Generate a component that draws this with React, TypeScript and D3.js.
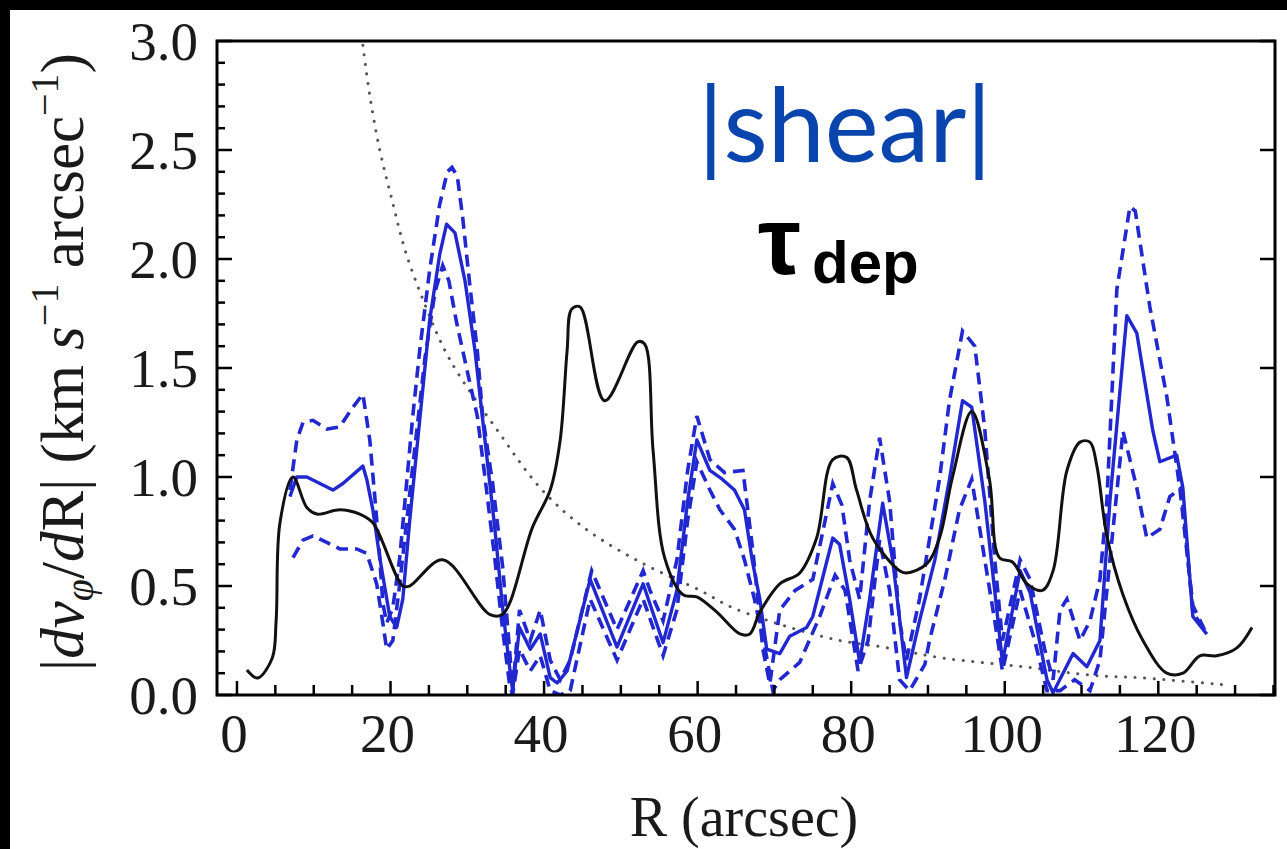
import React from "react";
import * as d3 from "d3";

// ---------- data ----------
const tauR = [1.3, 2.7, 4.6, 5.1, 5.6, 7.3, 9.1, 10.4, 13.4, 16.0, 17.7, 21.6, 22.5, 26.8, 32.9, 34.6, 38.5, 40.8, 42.1, 43.0, 43.6, 44.7, 47.9, 52.2, 53.1, 54.2, 55.7, 58.1, 59.9, 62.5, 65.5, 66.8, 68.1, 70.7, 73.3, 75.5, 77.6, 79.4, 80.7, 82.8, 86.3, 87.2, 89.8, 91.5, 93.2, 95.7, 98.0, 99.3, 101.0, 102.9, 104.9, 106.3, 108.1, 109.8, 111.1, 112.0, 113.3, 115.4, 118.0, 121.1, 123.2, 125.4, 127.6, 130.2, 132.2];
const tauV = [0.115, 0.078, 0.17, 0.34, 0.79, 1.0, 0.86, 0.83, 0.85, 0.83, 0.79, 0.5, 0.5, 0.62, 0.37, 0.37, 0.77, 0.94, 1.17, 1.58, 1.77, 1.78, 1.35, 1.62, 1.61, 1.12, 0.63, 0.46, 0.45, 0.38, 0.28, 0.28, 0.38, 0.51, 0.56, 0.72, 1.08, 1.09, 0.94, 0.72, 0.57, 0.56, 0.6, 0.72, 1.0, 1.3, 0.99, 0.63, 0.61, 0.51, 0.48, 0.57, 1.03, 1.16, 1.16, 1.05, 0.73, 0.46, 0.25, 0.1, 0.1, 0.18, 0.18, 0.215, 0.31];

const shearR = [6.9, 7.8, 9.1, 10.8, 12.5, 13.8, 16.4, 16.9, 17.7, 18.6, 19.9, 20.8, 21.6, 22.5, 23.8, 25.1, 26.4, 27.3, 28.4, 29.7, 31.0, 32.3, 33.6, 34.6, 35.5, 35.9, 36.8, 38.2, 39.5, 40.8, 41.7, 43.0, 46.0, 49.5, 52.9, 55.5, 57.3, 58.7, 59.9, 61.6, 63.2, 64.8, 66.1, 67.1, 68.1, 69.0, 70.7, 72.0, 74.2, 75.0, 77.6, 78.5, 79.8, 81.1, 82.4, 84.1, 85.4, 87.2, 88.9, 90.9, 92.8, 94.5, 95.7, 97.4, 99.0, 99.7, 102.0, 103.3, 105.5, 106.3, 108.9, 110.7, 112.4, 113.7, 115.9, 117.2, 119.3, 120.2, 122.4, 123.2, 124.5, 126.3];
const shearV = [0.91, 1.0, 1.0, 0.97, 0.94, 0.97, 1.05, 0.99, 0.85, 0.63, 0.36, 0.31, 0.44, 0.8, 1.26, 1.72, 2.02, 2.16, 2.12, 1.9, 1.58, 1.17, 0.76, 0.4, 0.13, 0.02, 0.31, 0.21, 0.28, 0.08, 0.055, 0.11, 0.53, 0.22, 0.51, 0.24, 0.48, 0.89, 1.17, 1.03, 0.99, 0.94, 0.85, 0.62, 0.44, 0.21, 0.19, 0.27, 0.31, 0.36, 0.72, 0.69, 0.44, 0.15, 0.44, 0.88, 0.62, 0.08, 0.34, 0.62, 0.99, 1.35, 1.32, 0.89, 0.38, 0.15, 0.57, 0.47, 0.07, 0.01, 0.19, 0.13, 0.25, 0.89, 1.74, 1.66, 1.21, 1.07, 1.1, 0.95, 0.36, 0.28];

const upperR = [6.9, 7.8, 8.6, 9.9, 11.7, 13.4, 15.1, 16.4, 17.3, 18.0, 18.6, 19.0, 19.5, 20.3, 21.2, 22.9, 23.8, 25.1, 26.4, 27.4, 28.0, 28.7, 29.4, 30.3, 31.3, 32.0, 33.3, 34.6, 35.5, 35.9, 36.8, 38.2, 39.5, 40.8, 42.1, 43.4, 46.2, 49.5, 52.9, 53.8, 55.5, 57.3, 58.7, 59.9, 61.6, 63.5, 65.9, 67.2, 68.5, 69.4, 70.7, 72.7, 75.0, 76.6, 77.6, 78.8, 79.8, 81.1, 82.4, 83.7, 85.0, 86.3, 87.2, 88.9, 91.5, 92.8, 94.5, 96.1, 97.4, 98.7, 99.7, 102.0, 103.3, 105.2, 106.3, 107.2, 108.1, 109.8, 111.1, 112.4, 113.3, 114.6, 116.3, 117.0, 118.9, 121.1, 122.8, 124.5, 126.3];
const upperV = [0.94, 1.17, 1.25, 1.26, 1.22, 1.23, 1.32, 1.38, 1.17, 0.89, 0.63, 0.42, 0.33, 0.4, 0.63, 1.28, 1.58, 1.95, 2.25, 2.4, 2.42, 2.38, 2.19, 1.89, 1.58, 1.28, 0.97, 0.59, 0.21, 0.02, 0.39, 0.25, 0.39, 0.16, 0.07, 0.16, 0.57, 0.3, 0.57, 0.48, 0.34, 0.62, 1.03, 1.28, 1.08, 1.02, 1.03, 0.66, 0.21, 0.05, 0.39, 0.48, 0.53, 0.8, 0.97, 0.87, 0.62, 0.44, 0.89, 1.18, 0.89, 0.34, 0.16, 0.44, 0.99, 1.35, 1.67, 1.6, 1.22, 0.62, 0.25, 0.62, 0.53, 0.21, 0.07, 0.39, 0.44, 0.25, 0.34, 0.53, 0.89, 1.86, 2.24, 2.22, 1.78, 1.37, 0.95, 0.41, 0.28];

const lowerR = [7.3, 8.6, 9.9, 11.7, 13.4, 15.6, 16.9, 18.2, 19.0, 19.5, 20.3, 21.2, 22.9, 24.5, 25.8, 26.8, 27.6, 28.6, 29.9, 31.3, 32.3, 33.6, 34.6, 35.5, 35.9, 36.8, 38.2, 39.5, 40.8, 42.1, 43.4, 46.0, 49.5, 52.9, 55.5, 57.3, 58.7, 59.9, 61.6, 62.9, 64.8, 66.1, 67.4, 68.8, 69.8, 70.7, 73.3, 75.9, 77.9, 79.2, 80.9, 82.2, 83.7, 85.0, 86.3, 87.6, 89.6, 90.2, 92.2, 94.1, 95.7, 97.4, 98.7, 99.7, 102.0, 103.9, 105.5, 107.2, 109.1, 111.1, 112.4, 113.7, 115.4, 117.2, 118.5, 120.2, 121.5, 123.0, 124.5, 126.3];
const lowerV = [0.63, 0.71, 0.73, 0.7, 0.67, 0.67, 0.65, 0.51, 0.33, 0.21, 0.25, 0.51, 1.05, 1.55, 1.85, 1.97, 1.9, 1.71, 1.5, 1.28, 1.0, 0.62, 0.3, 0.05, 0.0, 0.21, 0.11, 0.18, 0.02, 0.0, 0.02, 0.44, 0.16, 0.44, 0.18, 0.39, 0.8, 1.07, 0.94, 0.85, 0.76, 0.62, 0.44, 0.21, 0.02, 0.07, 0.15, 0.36, 0.55, 0.48, 0.11, 0.25, 0.71, 0.48, 0.07, 0.02, 0.14, 0.25, 0.53, 0.85, 0.99, 0.62, 0.34, 0.11, 0.48, 0.25, 0.02, 0.02, 0.07, 0.02, 0.16, 0.62, 1.21, 0.95, 0.72, 0.76, 0.91, 0.95, 0.38, 0.28];

const dotR = [16.4, 17.3, 18.6, 20.2, 21.9, 24.5, 27.7, 34.2, 39.5, 45.1, 52.5, 60.3, 64.6, 72.0, 78.5, 84.1, 91.9, 102.3, 111.5, 118.0, 128.9];
const dotV = [2.98, 2.75, 2.5, 2.27, 2.04, 1.79, 1.54, 1.2, 0.95, 0.77, 0.61, 0.48, 0.4, 0.31, 0.25, 0.22, 0.17, 0.13, 0.09, 0.078, 0.046];

const xTicks = [0, 20, 40, 60, 80, 100, 120];
const yTicks = [0, 0.5, 1.0, 1.5, 2.0, 2.5, 3.0];

// ---------- layout ----------
const W = 1287, H = 849;
const L = 217, R = 1275, T = 41, B = 695;
const BLUE = "#2228cf";

const x = d3.scaleLinear().domain([-2.6, 135.2]).range([L, R]);
const y = d3.scaleLinear().domain([0, 3]).range([B, T]);

const zip = (a: number[], b: number[]) => a.map((v, i) => [v, b[i]] as [number, number]);
const line = d3.line<[number, number]>().x(d => x(d[0])).y(d => y(d[1]));
const smooth = d3.line<[number, number]>().x(d => x(d[0])).y(d => y(d[1])).curve(d3.curveCatmullRom.alpha(0.5));

export default function App() {
  const xMinor = d3.range(0, 135.01, 5);
  const yMinor = d3.range(0, 3.001, 0.1);
  const serif = "'Liberation Serif', 'Times New Roman', serif";
  return (
    <svg width={W} height={H} style={{ position: "absolute", left: 0, top: 0, background: "#000" }}>
      <rect x={0} y={0} width={W} height={H} fill="#000" />
      <rect x={10} y={10} width={W - 10} height={H - 10} fill="#fff" />
      <defs>
        <clipPath id="plot">
          <rect x={L} y={T} width={R - L} height={B - T} />
        </clipPath>
      </defs>
      <g clipPath="url(#plot)" fill="none">
        <path d={smooth(zip(dotR, dotV)) || ""} stroke="#555" strokeWidth={3} strokeDasharray="0.1 9.5" strokeLinecap="round" />
        <path d={line(zip(upperR, upperV)) || ""} stroke={BLUE} strokeWidth={3.6} strokeDasharray="12 7" />
        <path d={line(zip(lowerR, lowerV)) || ""} stroke={BLUE} strokeWidth={3.6} strokeDasharray="12 7" />
        <path d={line(zip(shearR, shearV)) || ""} stroke={BLUE} strokeWidth={3.4} strokeLinejoin="round" />
        <path d={smooth(zip(tauR, tauV)) || ""} stroke="#111" strokeWidth={3} strokeLinejoin="round" />
      </g>
      {/* frame */}
      <rect x={L} y={T} width={R - L} height={B - T} fill="none" stroke="#000" strokeWidth={3} />
      {/* x ticks */}
      {xMinor.map(v => (
        <line key={"xm" + v} x1={x(v)} x2={x(v)} y1={B} y2={B - (v % 20 === 0 ? 14 : 10)} stroke="#000" strokeWidth={2.5} />
      ))}
      {/* y ticks */}
      {yMinor.map((v, i) => (
        <line key={"ym" + i} x1={L} x2={L + (i % 5 === 0 ? 15 : 8)} y1={y(v)} y2={y(v)} stroke="#000" strokeWidth={2.5} />
      ))}
      {yTicks.map(v => (
        <line key={"yr" + v} x1={R} x2={R - 15} y1={y(v)} y2={y(v)} stroke="#000" strokeWidth={2.5} />
      ))}
      {/* tick labels */}
      {xTicks.map(v => (
        <text key={"xl" + v} x={x(v) - 3} y={752} fontFamily={serif} fontSize={55} textAnchor="middle" fill="#1a1a1a">{v}</text>
      ))}
      {yTicks.map(v => (
        <text key={"yl" + v} x={198} y={y(v) + 19} fontFamily={serif} fontSize={55} textAnchor="end" fill="#1a1a1a">{v.toFixed(1)}</text>
      ))}
      <text x={744} y={836} fontFamily={serif} fontSize={56} textAnchor="middle" fill="#1a1a1a">R (arcsec)</text>
      <text transform="translate(83,362) rotate(-90)" fontFamily={serif} fontSize={61} textAnchor="middle" fill="#1a1a1a">
        <tspan>|</tspan>
        <tspan fontStyle="italic">dv</tspan>
        <tspan fontStyle="italic" fontSize={40} dy={10}>φ</tspan>
        <tspan dy={-10}>/</tspan>
        <tspan fontStyle="italic">d</tspan>
        <tspan>R| (km </tspan>
        <tspan fontStyle="italic">s</tspan>
        <tspan fontSize={40} dy={-25}>−1</tspan>
        <tspan dy={25}>{"  arcsec"}</tspan>
        <tspan fontSize={40} dy={-25}>−1</tspan>
        <tspan dy={25}>)</tspan>
      </text>
      {/* annotations */}
      <text x={698} y={162} fontFamily="Lato, 'Open Sans', sans-serif" fontSize={102} fill="#0a44ad">|shear|</text>
      <text x={758} y={274} fontFamily="'Liberation Sans', Arial, sans-serif" fontWeight="bold" fontSize={96} fill="#000">τ</text>
      <text x={812} y={283} fontFamily="'Liberation Sans', Arial, sans-serif" fontWeight="bold" fontSize={60} fill="#000">dep</text>
    </svg>
  );
}
